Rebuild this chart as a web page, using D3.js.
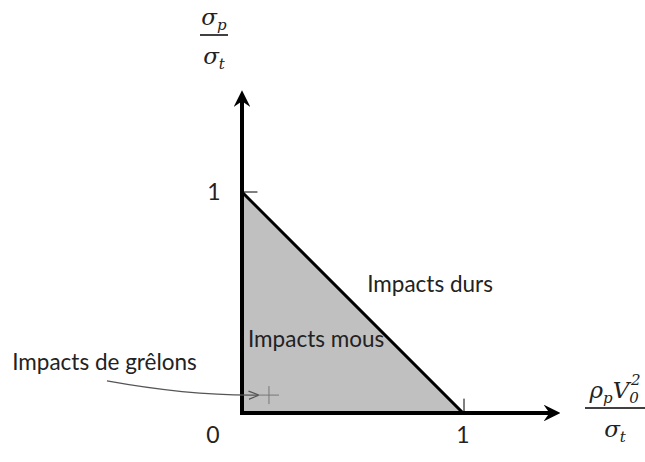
<!DOCTYPE html>
<html lang="en">
<head>
<meta charset="utf-8"/>
<script src="https://d3js.org/d3.v7.min.js"></script>
<style>
  body { margin: 0; background: #fff; }
  .lbl { font-family: Lato, "Open Sans", sans-serif; font-size: 22.5px; fill: #222; }
  .num { font-family: Lato, "Open Sans", sans-serif; font-size: 23px; fill: #222; }
  .math { font-family: "DejaVu Serif", serif; font-style: italic; font-size: 23px; fill: #222; }
  .sub { font-size: 15px; font-style: italic; }
</style>
</head>
<body>
<svg id="chart" width="645" height="462"></svg>
<script>
  // domain (hard / soft impact) in normalised units
  const triangle = [[0, 1], [1, 0], [0, 0]];
  const xTicks = [0, 1];
  const yTicks = [1];
  const regionLabels = [
    { text: "Impacts durs", x: 0.851, y: 0.548, anchor: "middle" },
    { text: "Impacts mous", x: 0.027, y: 0.299, anchor: "start" },
    { text: "Impacts de grêlons", x: -0.622, y: 0.195, anchor: "middle" }
  ];
  const hailPoint = [0.122, 0.081];
  const hailArrow = [[-0.611, 0.145], [-0.235, 0.077], [0.072, 0.081]];

  const svg = d3.select("#chart");
  const x = d3.scaleLinear().domain([0, 1]).range([242, 463]);
  const y = d3.scaleLinear().domain([0, 1]).range([413, 192]);

  const defs = svg.append("defs");
  defs.append("marker")
    .attr("id", "head").attr("viewBox", "0 0 10 10")
    .attr("refX", 6).attr("refY", 5)
    .attr("markerWidth", 4.2).attr("markerHeight", 4.2)
    .attr("markerUnits", "strokeWidth").attr("orient", "auto")
    .append("path").attr("d", "M0,0 L10,5 L0,10 L3.5,5 Z").attr("fill", "#000");
  defs.append("marker")
    .attr("id", "small").attr("viewBox", "0 0 10 10")
    .attr("refX", 9).attr("refY", 5)
    .attr("markerWidth", 8).attr("markerHeight", 8)
    .attr("markerUnits", "strokeWidth").attr("orient", "auto")
    .append("path").attr("d", "M0,1 L10,5 L0,9").attr("fill", "none")
    .attr("stroke", "#555").attr("stroke-width", 1.2);

  // shaded region
  svg.append("path")
    .datum(triangle)
    .attr("d", d3.line().x(d => x(d[0])).y(d => y(d[1])))
    .attr("fill", "#c0c0c0")
    .attr("stroke", "#000")
    .attr("stroke-width", 3)
    .attr("stroke-linejoin", "miter");

  // axes
  svg.append("line")
    .attr("x1", x(0)).attr("y1", y(0) + 2)
    .attr("x2", x(0)).attr("y2", y(1.43))
    .attr("stroke", "#000").attr("stroke-width", 4)
    .attr("marker-end", "url(#head)");
  svg.append("line")
    .attr("x1", x(0) - 2).attr("y1", y(0))
    .attr("x2", x(1.41)).attr("y2", y(0))
    .attr("stroke", "#000").attr("stroke-width", 4)
    .attr("marker-end", "url(#head)");

  // tick marks at 1
  svg.append("line")
    .attr("x1", x(0)).attr("x2", x(0.07))
    .attr("y1", y(1)).attr("y2", y(1))
    .attr("stroke", "#000").attr("stroke-width", 1);
  svg.append("line")
    .attr("x1", x(1) + 1).attr("x2", x(1) + 1)
    .attr("y1", y(0)).attr("y2", y(0.065))
    .attr("stroke", "#000").attr("stroke-width", 1);

  // tick labels
  yTicks.forEach(t => {
    svg.append("text").attr("class", "num")
      .attr("x", x(0) - 28).attr("y", y(t) + 8)
      .attr("text-anchor", "middle").text(t);
  });
  xTicks.forEach(t => {
    svg.append("text").attr("class", "num")
      .attr("x", t === 0 ? x(0) - 29 : x(t)).attr("y", y(0) + 30)
      .attr("text-anchor", "middle").text(t);
  });

  // region labels
  regionLabels.forEach(d => {
    svg.append("text").attr("class", "lbl")
      .attr("x", x(d.x)).attr("y", y(d.y))
      .attr("text-anchor", d.anchor).text(d.text);
  });

  // hailstone pointer
  const p = hailArrow.map(d => [x(d[0]), y(d[1])]);
  svg.append("path")
    .attr("d", `M${p[0][0]},${p[0][1]} Q${p[1][0]},${p[1][1]} ${p[2][0]},${p[2][1]}`)
    .attr("fill", "none").attr("stroke", "#555").attr("stroke-width", 1.3)
    .attr("marker-end", "url(#small)");
  const hx = x(hailPoint[0]), hy = y(hailPoint[1]);
  svg.append("path")
    .attr("d", `M${hx - 11},${hy} H${hx + 10} M${hx},${hy - 9} V${hy + 9}`)
    .attr("stroke", "#777").attr("stroke-width", 1);

  // axis titles (fractions)
  function fraction(cx, cy, num, den, w) {
    const g = svg.append("g");
    const tn = g.append("text").attr("class", "math")
      .attr("x", cx).attr("y", cy - 10).attr("text-anchor", "middle");
    num.forEach(s => tn.append("tspan").attr("class", s.cls || null)
      .attr("dx", s.dx || 0).attr("dy", s.dy || 0).text(s.t));
    const td = g.append("text").attr("class", "math")
      .attr("x", cx).attr("y", cy + 29).attr("text-anchor", "middle");
    den.forEach(s => td.append("tspan").attr("class", s.cls || null)
      .attr("dy", s.dy || 0).text(s.t));
    g.append("line").attr("x1", cx - w / 2).attr("x2", cx + w / 2)
      .attr("y1", cy).attr("y2", cy).attr("stroke", "#000").attr("stroke-width", 1.5);
  }
  fraction(214, 35,
    [{ t: "σ" }, { t: "p", cls: "sub", dy: 5 }],
    [{ t: "σ" }, { t: "t", cls: "sub", dy: 5 }], 28);
  fraction(615, 408,
    [{ t: "ρ" }, { t: "p", cls: "sub", dy: 5 }, { t: "V", dy: -5 }, { t: "0", cls: "sub", dy: 5 },
     { t: "2", cls: "sub", dx: -8, dy: -18 }],
    [{ t: "σ" }, { t: "t", cls: "sub", dy: 5 }], 60);
</script>
</body>
</html>
